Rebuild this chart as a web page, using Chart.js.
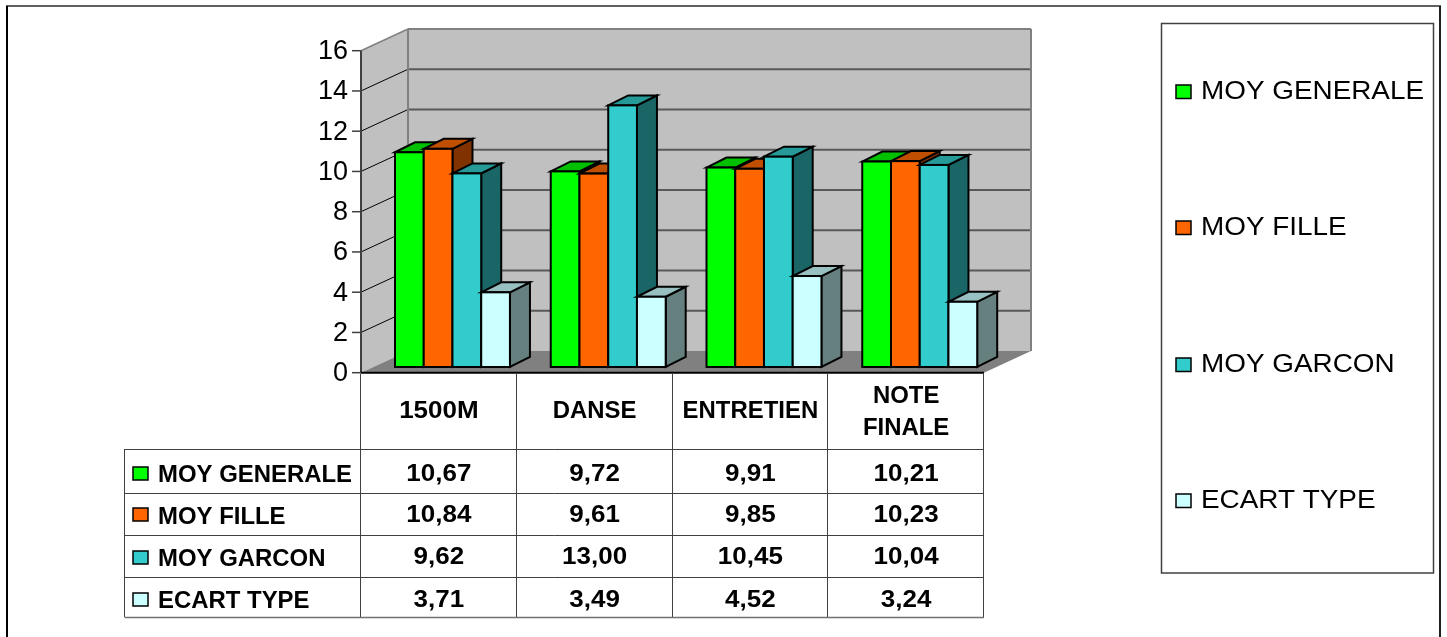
<!DOCTYPE html>
<html><head><meta charset="utf-8">
<style>html,body{margin:0;padding:0;background:#fff}canvas{display:block}</style>
<script src="https://cdn.jsdelivr.net/npm/chart.js@4"></script>
</head><body><canvas id="c" width="1447" height="637"></canvas>
<script>
const categories = ['1500M','DANSE','ENTRETIEN',['NOTE','FINALE']];
const seriesNames = ['MOY GENERALE','MOY FILLE','MOY GARCON','ECART TYPE'];
const moyGenerale = [10.67,9.72,9.91,10.21];
const moyFille = [10.84,9.61,9.85,10.23];
const moyGarcon = [9.62,13.00,10.45,10.04];
const ecartType = [3.71,3.49,4.52,3.24];
const frontColors = ['#00FF00','#FF6600','#33CCCC','#CCFFFF'];
const topColors = ['#00C000','#C05000','#269999','#99C0C0'];
const sideColors = ['#008000','#803300','#1A6666','#668080'];
const allValues = [moyGenerale,moyFille,moyGarcon,ecartType];
const fmt = v => v.toFixed(2).replace('.',',');

const wallDX = 47, wallDY = -21.7, barShiftX = 13.6, barShiftY = -5.7, barDX = 20, barDY = -10;
const FF = '"Liberation Sans", Arial, sans-serif';

function poly(ctx, pts, fill, stroke, lw){
  ctx.beginPath(); pts.forEach((p,i)=> i?ctx.lineTo(p[0],p[1]):ctx.moveTo(p[0],p[1])); ctx.closePath();
  if(fill){ctx.fillStyle=fill;ctx.fill();}
  if(stroke){ctx.strokeStyle=stroke;ctx.lineWidth=lw||1;ctx.stroke();}
}
function line(ctx,x1,y1,x2,y2,c,w){ctx.beginPath();ctx.moveTo(x1,y1);ctx.lineTo(x2,y2);ctx.strokeStyle=c;ctx.lineWidth=w;ctx.stroke();}
// text stretched horizontally, as in the wide reference picture
function sText(ctx,t,x,y,sx,align){
  ctx.save();ctx.translate(x,y);ctx.scale(sx,1);ctx.textAlign=align;ctx.textBaseline='alphabetic';ctx.fillStyle='#000';
  ctx.fillText(t,0,0);ctx.restore();
}

const plugin3d = {
  id:'plugin3d',
  beforeDraw(chart){
    const {ctx,chartArea:a,scales:{y}} = chart;
    ctx.save();
    ctx.fillStyle='#fff';ctx.fillRect(0,0,1447,637);
    line(ctx,6,6,1441,6,'#606060',2);
    line(ctx,7,6,7,637,'#000',2);
    line(ctx,1440,6,1440,637,'#202020',2);
    const L=a.left,R=a.right,T=a.top,B=a.bottom;
    poly(ctx,[[L,T],[L+wallDX,T+wallDY],[L+wallDX,B+wallDY],[L,B]],'#C0C0C0');
    ctx.fillStyle='#C0C0C0';ctx.fillRect(L+wallDX,T+wallDY,R-L,B-T);
    poly(ctx,[[L,B],[L+wallDX,B+wallDY],[R+wallDX,B+wallDY],[R,B]],'#808080');
    y.ticks.forEach(t=>{
      const py=y.getPixelForValue(t.value);
      if(t.value>0 && t.value<16){
        line(ctx,L+wallDX,py+wallDY,R+wallDX,py+wallDY,'#595959',2);
        line(ctx,L,py,L+wallDX,py+wallDY,'#000',1);
      }
      line(ctx,L-9,py,L,py,'#404040',1.5);
    });
    line(ctx,L,T,L+wallDX,T+wallDY,'#808080',1.5);
    line(ctx,L+wallDX,T+wallDY,R+wallDX,T+wallDY,'#808080',2);
    line(ctx,L+wallDX,T+wallDY,L+wallDX,B+wallDY,'#808080',2);
    line(ctx,R+wallDX,T+wallDY,R+wallDX,B+wallDY,'#808080',2);
    line(ctx,L,T,L,B,'#404040',2);
    ctx.restore();
  },
  beforeDatasetsDraw(chart){
    // painter's order: first series at the back, each bar's side and top first, then its front
    const ctx=chart.ctx;
    ctx.save();
    ctx.translate(barShiftX,barShiftY);
    ctx.lineJoin='miter';
    seriesNames.forEach((n,i)=>{
      chart.getDatasetMeta(i).data.forEach(b=>{
        const l=b.x-b.width/2,r=b.x+b.width/2,t=b.y,bt=b.base;
        poly(ctx,[[r,t],[r+barDX,t+barDY],[r+barDX,bt+barDY],[r,bt]],sideColors[i],'#000',2);
        poly(ctx,[[l,t],[l+barDX,t+barDY],[r+barDX,t+barDY],[r,t]],topColors[i],'#000',2);
        b.draw(ctx);
        ctx.strokeStyle='#000';ctx.lineWidth=2;ctx.strokeRect(l,t,b.width,bt-t);
      });
    });
    ctx.restore();
    return false;
  },
  afterDraw(chart){
    const {ctx,chartArea:a,scales:{x}} = chart;
    ctx.save();
    const rows=[449,493,535,577,617], tl=124.5, colL=a.left, step=(a.right-a.left)/4;
    line(ctx,a.left,a.bottom,a.right,a.bottom,'#000',2);
    for(let c=0;c<=4;c++){const px=Math.round(colL+step*c)-.5; line(ctx,px,a.bottom+1,px,rows[4],'#404040',1);}
    line(ctx,tl,rows[0],tl,rows[4],'#404040',1);
    rows.forEach((r,k)=>line(ctx,tl,r+.5,a.right,r+.5,k==4?'#707070':'#404040',k==4?1.5:1));

    ctx.font='bold 23px '+FF;
    const headBase=417.5;
    categories.forEach((c,i)=>{
      const cx=x.getPixelForValue(i);
      if(Array.isArray(c)){ sText(ctx,c[0],cx,402.5,1.04,'center'); sText(ctx,c[1],cx,434.5,1.04,'center'); }
      else sText(ctx,c,cx,headBase,/\d/.test(c)?1.13:1.04,'center');
    });
    const labelBase=[481.5,524,565.5,607.5], valueBase=[480.5,521.5,563.5,606.5], swatchTop=[467,508,551,593];
    seriesNames.forEach((n,k)=>{
      ctx.fillStyle=frontColors[k];ctx.strokeStyle='#000';ctx.lineWidth=1.5;
      ctx.fillRect(133,swatchTop[k],15,13);ctx.strokeRect(133,swatchTop[k],15,13);
      sText(ctx,n,158,labelBase[k],1.04,'left');
      allValues[k].forEach((v,c)=>sText(ctx,fmt(v),x.getPixelForValue(c),valueBase[k],1.13,'center'));
    });
    // legend
    ctx.strokeStyle='#404040';ctx.lineWidth=1.5;ctx.strokeRect(1161.5,23.5,272,549.5);
    const lb=[99,235,372,508];
    ctx.font='25px '+FF;
    seriesNames.forEach((n,k)=>{
      ctx.fillStyle=frontColors[k];ctx.strokeStyle='#000';ctx.lineWidth=1.5;
      ctx.fillRect(1176,lb[k]-14,15,13.5);ctx.strokeRect(1176,lb[k]-14,15,13.5);
      sText(ctx,n,1201,lb[k],1.115,'left');
    });
    ctx.restore();
  }
};

new Chart(document.getElementById('c'),{
  type:'bar',
  data:{labels:categories,datasets:seriesNames.map((n,i)=>({
    label:n,data:allValues[i],backgroundColor:frontColors[i],borderWidth:0,
    categoryPercentage:0.738,barPercentage:1
  }))},
  plugins:[plugin3d],
  options:{
    responsive:false,animation:false,
    layout:{padding:{top:50.7,right:463,left:0,bottom:0}},
    plugins:{legend:{display:false},tooltip:{enabled:false}},
    scales:{
      x:{
        grid:{display:false,drawTicks:false},border:{display:false},
        afterFit(s){s.height=637-372.7;},
        ticks:{display:false,autoSkip:false}
      },
      y:{
        min:0,max:16,
        afterFit(s){s.width=361;},
        grid:{display:false,drawTicks:false},border:{display:false},
        ticks:{stepSize:2,color:'#000',font:{family:'Liberation Sans',size:27},padding:13,labelOffset:1}
      }
    }
  }
});
</script></body></html>
